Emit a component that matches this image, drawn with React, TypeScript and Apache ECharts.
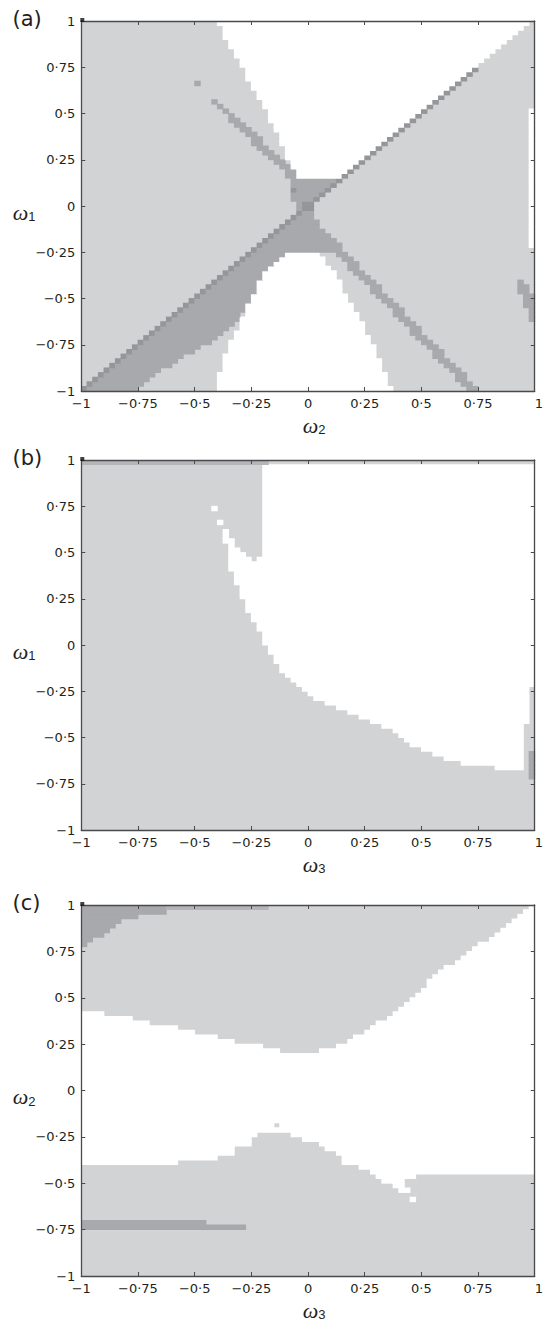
import React, { useEffect, useRef } from 'react';
import * as echarts from 'echarts';

type Pt = [number, number];
type Layer = [Pt[], number];

// ---------- axes / ticks ----------
const TICK_MIN = -1;
const TICK_MAX = 1;
const TICK_STEP = 0.25;
const CELL = 0.025; // grid resolution of the maps
const NCELL = 80;

// level -> colour : 0 white, 1 light grey, 2 mid grey, 3 dark grey, 4 top strip
const LEVEL_COLORS = ['#ffffff', '#d1d3d4', '#a7a9ac', '#949699', '#b4b5b8'];

// ---------- panel (a): omega1 vs omega2 ----------
const A_CENTER: Pt[] = [[-0.08, 0.165], [0.15, 0.165], [0, 0], [-0.05, -0.02], [-0.07, 0.05]];
const A_BAND: Pt[] = [[-1.0125, -1.0], [-0.0125, 0], [0.03, -0.03], [0.03, -0.076], [0.774, -1.02], [-1.02, -1.02], [-1.02, -1.0]];
const A_UL_STRIPE: Pt[] = [[-0.43, 0.575], [-0.405, 0.575], [-0.199, 0.35], [-0.0055, 0.125], [-0.0555, 0.125], [-0.249, 0.35]];
const A_DOT: Pt[] = [[-0.5, 0.65], [-0.475, 0.65], [-0.475, 0.675], [-0.5, 0.675]];
const A_RIGHT_STRIPE: Pt[] = [[0.925, -0.41], [0.955, -0.41], [1.02, -0.55], [1.02, -0.64], [0.99, -0.64], [0.925, -0.45]];
const A_LIGHT_WEDGE: Pt[] = [[-0.78, -1.02], [-0.69, -0.92], [-0.58, -0.84], [-0.46, -0.76], [-0.38, -0.7], [-0.31, -0.62], [-0.25, -0.5], [-0.2, -0.38], [-0.12, -0.27], [-0.06, -0.24], [0.109, -0.24], [0.724, -1.02]];
const A_WHITE_BOTTOM: Pt[] = [[-0.406, -1.02], [-0.39, -0.9], [-0.377, -0.84], [-0.333, -0.724], [-0.305, -0.643], [-0.276, -0.56], [-0.254, -0.51], [-0.229, -0.445], [-0.18, -0.346], [-0.13, -0.29], [-0.097, -0.265], [-0.06, -0.245], [0.034, -0.245], [0.063, -0.274], [0.12, -0.373], [0.207, -0.562], [0.3, -0.78], [0.374, -1.02]];
const A_WHITE_TOP: Pt[] = [[-0.406, 1.02], [-0.38, 0.95], [-0.355, 0.89], [-0.305, 0.78], [-0.261, 0.68], [-0.203, 0.557], [-0.153, 0.43], [-0.102, 0.3], [-0.06, 0.185], [-0.06, 0.16], [0.1475, 0.16], [1.0075, 1.02]];
const A_WHITE_RIGHT: Pt[] = [[0.975, -0.225], [1.02, -0.225], [1.02, 0.525], [0.975, 0.525]];
const A_DIAG: Pt[] = [[-1.03, -1.01], [0.74, 0.76], [0.76, 0.74], [-1.01, -1.03]];
const A_CORE: Pt[] = [[-0.025, -0.025], [0.025, -0.025], [0.025, 0.025], [-0.025, 0.025]];
const A_CORE_DOT: Pt[] = [[-0.075, 0.075], [-0.05, 0.075], [-0.05, 0.1], [-0.075, 0.1]];

const A_LAYERS: Layer[] = [
  [A_CENTER, 2], [A_BAND, 2], [A_UL_STRIPE, 2], [A_DOT, 2], [A_RIGHT_STRIPE, 2],
  [A_LIGHT_WEDGE, 1], [A_WHITE_BOTTOM, 0], [A_WHITE_TOP, 0], [A_WHITE_RIGHT, 0],
  [A_DIAG, 3], [A_CORE, 3], [A_CORE_DOT, 3],
];

// ---------- panel (b): omega1 vs omega3 ----------
const B_TOP_ROW: Pt[] = [[-1.02, 0.975], [-0.175, 0.975], [-0.175, 1.02], [-1.02, 1.02]];
const B_WHITE: Pt[] = [[-0.36, 0.975], [1.02, 0.975], [1.02, -0.225], [0.975, -0.225], [0.975, -0.425], [0.95, -0.425], [0.95, -0.665], [0.846, -0.665], [0.7, -0.645], [0.673, -0.635], [0.574, -0.607], [0.469, -0.544], [0.371, -0.463], [0.25, -0.4], [0.144, -0.346], [0.038, -0.292], [-0.03, -0.24], [-0.079, -0.195], [-0.131, -0.113], [-0.181, -0.016], [-0.208, 0.059], [-0.261, 0.168], [-0.309, 0.303], [-0.354, 0.465], [-0.36, 0.56]];
const B_BLOCK: Pt[] = [[-0.5, 0.975], [-0.2, 0.975], [-0.2, 0.475], [-0.225, 0.475], [-0.225, 0.45], [-0.25, 0.45], [-0.25, 0.475], [-0.275, 0.475], [-0.275, 0.5], [-0.3, 0.5], [-0.3, 0.525], [-0.325, 0.525], [-0.325, 0.575], [-0.5, 0.575]];
const B_CHANNEL_1: Pt[] = [[-0.425, 0.725], [-0.4, 0.725], [-0.4, 0.75], [-0.425, 0.75]];
const B_CHANNEL_2: Pt[] = [[-0.4, 0.65], [-0.375, 0.65], [-0.375, 0.675], [-0.4, 0.675]];
const B_CHANNEL_3: Pt[] = [[-0.375, 0.55], [-0.35, 0.55], [-0.35, 0.625], [-0.375, 0.625]];
const B_RIGHT_MED: Pt[] = [[0.975, -0.725], [1.02, -0.725], [1.02, -0.575], [0.975, -0.575]];

const B_LAYERS: Layer[] = [
  [B_TOP_ROW, 4], [B_WHITE, 0], [B_BLOCK, 1], [B_CHANNEL_1, 0], [B_CHANNEL_2, 0], [B_CHANNEL_3, 0], [B_RIGHT_MED, 2],
];

// ---------- panel (c): omega2 vs omega3 ----------
const C_WHITE: Pt[] = [
  [-1.02, 0.425], [-0.9, 0.425], [-0.9, 0.4], [-0.775, 0.4], [-0.775, 0.375], [-0.7, 0.375], [-0.7, 0.35],
  [-0.575, 0.35], [-0.575, 0.325], [-0.5, 0.325], [-0.5, 0.3], [-0.4, 0.3], [-0.4, 0.275], [-0.325, 0.275],
  [-0.325, 0.25], [-0.2, 0.25], [-0.2, 0.225], [-0.125, 0.225], [-0.125, 0.2], [0.025, 0.2],
  [0.09, 0.227], [0.144, 0.25], [0.22, 0.3], [0.295, 0.348], [0.371, 0.416], [0.476, 0.524], [0.597, 0.65],
  [0.703, 0.74], [0.809, 0.829], [0.915, 0.919], [0.983, 0.991], [1.02, 1.02],
  [1.02, -0.45], [0.475, -0.45], [0.475, -0.6], [0.45, -0.6], [0.45, -0.55], [0.4, -0.55], [0.4, -0.525],
  [0.375, -0.525], [0.375, -0.5], [0.325, -0.5], [0.325, -0.475], [0.3, -0.475], [0.3, -0.45], [0.275, -0.45],
  [0.275, -0.425], [0.225, -0.425], [0.225, -0.4], [0.15, -0.4], [0.15, -0.35], [0.125, -0.35], [0.125, -0.325],
  [0.075, -0.325], [0.075, -0.3], [0.05, -0.3], [0.05, -0.275], [-0.025, -0.275], [-0.025, -0.25], [-0.075, -0.25],
  [-0.075, -0.225], [-0.225, -0.225], [-0.225, -0.25], [-0.25, -0.25], [-0.25, -0.3], [-0.325, -0.3],
  [-0.325, -0.35], [-0.4, -0.35], [-0.4, -0.375], [-0.575, -0.375], [-0.575, -0.4], [-1.02, -0.4],
];
const C_NOTCH_LIGHT: Pt[] = [[0.425, -0.475], [0.475, -0.475], [0.475, -0.575], [0.45, -0.575], [0.45, -0.525], [0.425, -0.525]];
const C_DOT: Pt[] = [[-0.15, -0.2], [-0.125, -0.2], [-0.125, -0.175], [-0.15, -0.175]];
const C_TOP_ROW: Pt[] = [[-1.02, 0.975], [-0.175, 0.975], [-0.175, 1.02], [-1.02, 1.02]];
const C_CORNER: Pt[] = [[-1.02, 0.775], [-0.975, 0.775], [-0.975, 0.8], [-0.95, 0.8], [-0.95, 0.825], [-0.9, 0.825], [-0.9, 0.85], [-0.875, 0.85], [-0.875, 0.875], [-0.85, 0.875], [-0.85, 0.9], [-0.825, 0.9], [-0.825, 0.925], [-0.75, 0.925], [-0.75, 0.95], [-0.625, 0.95], [-0.625, 1.02], [-1.02, 1.02]];
const C_BAR_1: Pt[] = [[-1.02, -0.725], [-0.45, -0.725], [-0.45, -0.7], [-1.02, -0.7]];
const C_BAR_2: Pt[] = [[-1.02, -0.75], [-0.275, -0.75], [-0.275, -0.725], [-1.02, -0.725]];

const C_LAYERS: Layer[] = [
  [C_WHITE, 0], [C_NOTCH_LIGHT, 1], [C_DOT, 1], [C_TOP_ROW, 4], [C_CORNER, 2], [C_BAR_1, 2], [C_BAR_2, 2],
];

const PANEL_LABELS = ['(a)', '(b)', '(c)'];
const X_NAMES = ['2', '3', '3'];
const Y_NAMES = ['1', '1', '2'];
const CORNER_MARK: Pt[] = [[-1, 1]];

// ---------- layout ----------
const GRID_LEFT = 81.3;
const GRID_WIDTH = 460.5;
const GRID_TOPS = [21, 460, 905];
const GRID_HEIGHTS = [370, 370, 371];
const TEXT = '#231f20';
const AXIS = '#4a4a4c';

function inside(poly: Pt[], x: number, y: number): boolean {
  let c = false;
  for (let i = 0, j = poly.length - 1; i < poly.length; j = i++) {
    const xi = poly[i][0], yi = poly[i][1], xj = poly[j][0], yj = poly[j][1];
    if ((yi > y) !== (yj > y) && x < ((xj - xi) * (y - yi)) / (yj - yi) + xi) c = !c;
  }
  return c;
}

// rasterise layered regions on the 0.025 grid, return horizontal runs [u0,u1,v0,v1,level]
function buildRuns(layers: Layer[]): number[][] {
  const g: number[][] = [];
  for (let j = 0; j < NCELL; j++) g.push(new Array(NCELL).fill(1));
  for (const [poly, lvl] of layers) {
    for (let j = 0; j < NCELL; j++) {
      const v = -1 + (j + 0.5) * CELL;
      for (let i = 0; i < NCELL; i++) {
        const u = -1 + (i + 0.5) * CELL;
        if (inside(poly, u, v)) g[j][i] = lvl;
      }
    }
  }
  const runs: number[][] = [[-1, 1, -1, 1, 1]];
  for (let j = 0; j < NCELL; j++) {
    let i = 0;
    while (i < NCELL) {
      const lvl = g[j][i];
      let k = i;
      while (k + 1 < NCELL && g[j][k + 1] === lvl) k++;
      if (lvl !== 1) runs.push([-1 + i * CELL, -1 + (k + 1) * CELL, -1 + j * CELL, -1 + (j + 1) * CELL, lvl]);
      i = k + 1;
    }
  }
  return runs;
}

const fmt = (v: number) => {
  const s = (Math.round(v * 100) / 100).toString();
  return s.replace('-', '\u2212').replace('.', '\u00b7');
};

export default function App() {
  const ref = useRef<HTMLDivElement>(null);
  useEffect(() => {
    if (!ref.current) return;
    const chart = echarts.init(ref.current, undefined, { renderer: 'svg' });
    const allRuns = [buildRuns(A_LAYERS), buildRuns(B_LAYERS), buildRuns(C_LAYERS)];

    const grids = GRID_TOPS.map((t, i) => ({ left: GRID_LEFT, top: t, width: GRID_WIDTH, height: GRID_HEIGHTS[i] }));
    const labelFont = { fontFamily: 'DejaVu Sans', fontSize: 13, color: TEXT };
    const common = (gi: number) => ({
      gridIndex: gi, type: 'value', min: TICK_MIN, max: TICK_MAX, interval: TICK_STEP, z: 5,
      axisLine: { show: true, onZero: false, lineStyle: { color: AXIS, width: 1.3 } },
      axisTick: { show: true, inside: true, length: 4, lineStyle: { color: AXIS, width: 1 } },
      splitLine: { show: false },
    });
    const xAxis: any[] = [];
    const yAxis: any[] = [];
    for (let i = 0; i < 3; i++) {
      xAxis.push({
        ...common(i), position: 'bottom',
        axisLabel: {
          ...labelFont, margin: 6, showMinLabel: true, showMaxLabel: true,
          // the last label is cut by the figure's right edge in the original
          formatter: (v: number) => (v === 1 ? '\u00a0\u00a01' : fmt(v)),
        },
      });
      xAxis.push({ ...common(i), position: 'top', axisLabel: { show: false } });
      yAxis.push({
        ...common(i), position: 'left',
        axisLabel: { ...labelFont, margin: 6, showMinLabel: true, showMaxLabel: true, formatter: (v: number) => fmt(v) },
      });
      yAxis.push({ ...common(i), position: 'right', axisLabel: { show: false } });
    }

    const renderItem = (params: any, api: any) => {
      const u0 = api.value(0), u1 = api.value(1), v0 = api.value(2), v1 = api.value(3), lvl = api.value(4);
      const p0 = api.coord([u0, v1]);
      const p1 = api.coord([u1, v0]);
      return {
        type: 'rect',
        shape: { x: p0[0] - 0.4, y: p0[1] - 0.4, width: p1[0] - p0[0] + 0.8, height: p1[1] - p0[1] + 0.8 },
        style: { fill: LEVEL_COLORS[lvl] },
      };
    };

    const series: any[] = [];
    for (let i = 0; i < 3; i++) {
      series.push({
        type: 'custom', xAxisIndex: 2 * i, yAxisIndex: 2 * i, clip: true, silent: true, z: 2,
        renderItem, data: allRuns[i], encode: { x: [0, 1], y: [2, 3] },
      });
      series.push({
        type: 'scatter', xAxisIndex: 2 * i, yAxisIndex: 2 * i, data: CORNER_MARK, symbol: 'rect', symbolSize: 4,
        symbolOffset: [1, -1], itemStyle: { color: '#111111' }, z: 6, silent: true, clip: false,
      });
    }

    const nameRich = (sub: string) => ({
      text: `{w|\u03c9}{s|${sub}}`,
      rich: {
        w: { fontFamily: 'Liberation Serif', fontStyle: 'italic', fontSize: 22, fill: TEXT, color: TEXT },
        s: { fontFamily: 'Liberation Sans', fontSize: 13, fill: TEXT, color: TEXT, padding: [9, 0, 0, 0] },
      },
      align: 'center', verticalAlign: 'middle', textAlign: 'center', textVerticalAlign: 'middle',
    });

    const X_NAME_OFFSET = 34;
    const graphic: any[] = [];
    for (let i = 0; i < 3; i++) {
      const top = GRID_TOPS[i];
      const bottom = top + GRID_HEIGHTS[i];
      graphic.push({
        type: 'text', x: 12.5, y: top - 2.5,
        style: { text: PANEL_LABELS[i], fontFamily: 'DejaVu Sans', fontSize: 21, fill: TEXT, align: 'left', verticalAlign: 'middle', textAlign: 'left', textVerticalAlign: 'middle' },
      });
      graphic.push({ type: 'text', x: 314, y: bottom + X_NAME_OFFSET, style: nameRich(X_NAMES[i]) });
      graphic.push({ type: 'text', x: 24, y: top + GRID_HEIGHTS[i] / 2 + 6, style: nameRich(Y_NAMES[i]) });
    }

    chart.setOption({
      animation: false,
      backgroundColor: '#ffffff',
      grid: grids,
      xAxis,
      yAxis,
      series,
      graphic,
    });
    return () => chart.dispose();
  }, []);
  return <div ref={ref} style={{ position: 'absolute', left: 0, top: 0, width: 546, height: 1323 }} />;
}
